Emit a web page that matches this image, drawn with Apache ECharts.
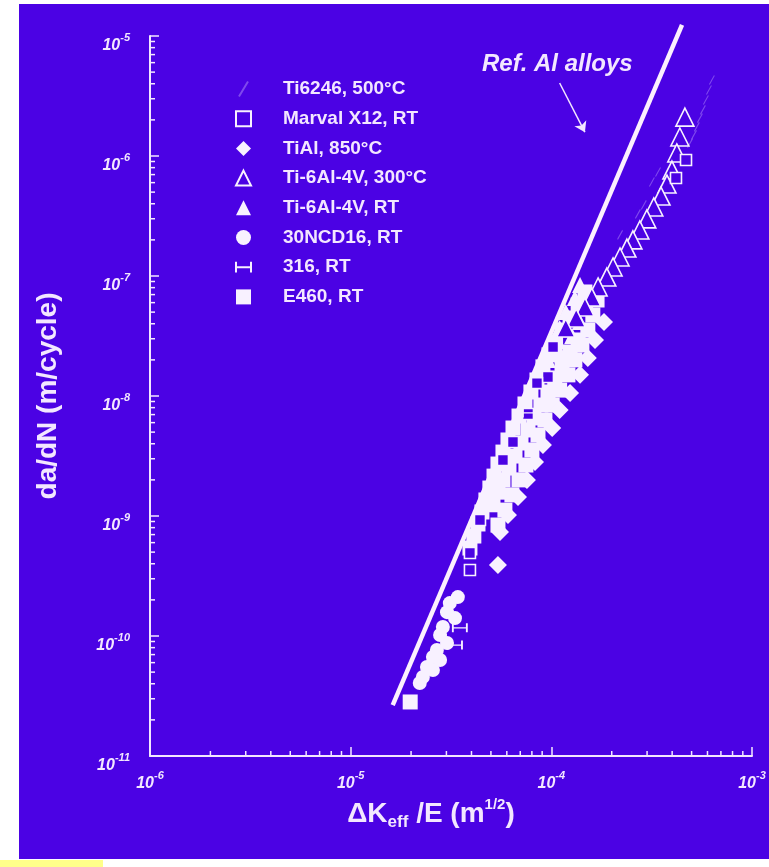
<!DOCTYPE html>
<html>
<head>
<meta charset="utf-8">
<script src="https://cdn.jsdelivr.net/npm/echarts@6/dist/echarts.min.js"></script>
<style>
  html, body { margin: 0; padding: 0; background: #ffffff; }
  #chart { width: 769px; height: 867px; }
</style>
</head>
<body>
<div id="chart"></div>
<script>
// Crack growth rate da/dN versus effective stress-intensity range normalised by E.

// Axis decades (log scale)
const xDecades = [1e-6, 1e-5, 1e-4, 1e-3];
const yDecades = [1e-11, 1e-10, 1e-9, 1e-8, 1e-7, 1e-6, 1e-5];

// Series: [ΔKeff/E (m^1/2), da/dN (m/cycle)]
const ti6246_500C = [
  [6.31e-4, 4.30e-6], [6.10e-4, 3.55e-6], [5.89e-4, 2.93e-6], [5.69e-4, 2.42e-6],
  [5.50e-4, 2.07e-6], [5.31e-4, 1.75e-6], [5.14e-4, 1.50e-6], [4.91e-4, 1.28e-6],
  [3.40e-4, 7.36e-7], [3.17e-4, 6.07e-7], [2.89e-4, 3.91e-7], [2.70e-4, 3.29e-7],
  [2.20e-4, 2.20e-7]
];
const marvalX12_RT = [
  [4.69e-4, 9.26e-7], [4.18e-4, 6.56e-7], [1.02e-4, 2.56e-8], [9.62e-5, 1.44e-8],
  [8.48e-5, 1.28e-8], [7.65e-5, 7.08e-9], [6.44e-5, 4.14e-9], [5.74e-5, 2.93e-9],
  [4.41e-5, 9.26e-10], [3.93e-5, 4.92e-10], [3.93e-5, 3.55e-10]
];
const tiAl_850C = [
  [1.83e-4, 4.14e-8], [1.65e-4, 2.93e-8], [1.52e-4, 2.07e-8], [1.39e-4, 1.50e-8],
  [1.24e-4, 1.06e-8], [1.10e-4, 7.64e-9], [1.01e-4, 5.41e-9], [9.08e-5, 3.91e-9],
  [8.29e-5, 2.82e-9], [7.56e-5, 2.00e-9], [6.82e-5, 1.44e-9], [6.08e-5, 1.02e-9],
  [5.55e-5, 7.36e-10], [5.42e-5, 3.91e-10]
];
const ti64_300C = [
  [4.63e-4, 2.11e-6], [4.37e-4, 1.44e-6], [4.22e-4, 1.06e-6], [3.99e-4, 7.64e-7],
  [3.77e-4, 5.84e-7], [3.52e-4, 4.64e-7], [3.24e-4, 3.76e-7], [2.99e-4, 2.99e-7],
  [2.76e-4, 2.42e-7], [2.55e-4, 2.00e-7], [2.38e-4, 1.71e-7], [2.20e-4, 1.44e-7],
  [2.03e-4, 1.19e-7], [1.89e-4, 9.80e-8], [1.71e-4, 8.10e-8], [1.59e-4, 6.68e-8],
  [1.47e-4, 5.52e-8], [1.33e-4, 4.47e-8], [1.18e-4, 3.69e-8]
];
const ti64_RT = [
  [1.39e-4, 8.41e-8], [1.31e-4, 6.56e-8], [1.52e-4, 5.73e-8], [1.18e-4, 5.01e-8],
  [1.39e-4, 4.14e-8], [1.10e-4, 3.69e-8], [1.27e-4, 3.16e-8], [1.04e-4, 2.66e-8],
  [1.10e-4, 2.33e-8], [9.62e-5, 2.00e-8]
];
const ncd16_RT = [
  [3.42e-5, 2.11e-10], [3.12e-5, 1.88e-10], [3.02e-5, 1.58e-10], [3.31e-5, 1.41e-10],
  [2.88e-5, 1.19e-10], [2.79e-5, 1.02e-10], [3.02e-5, 8.75e-11], [2.69e-5, 7.64e-11],
  [2.57e-5, 6.68e-11], [2.79e-5, 6.31e-11], [2.40e-5, 5.52e-11], [2.57e-5, 5.21e-11],
  [2.29e-5, 4.55e-11], [2.21e-5, 4.06e-11]
];
const ss316_RT = [
  [3.50e-5, 1.17e-10], [3.31e-5, 8.41e-11], [7.82e-5, 7.22e-9], [5.36e-5, 2.00e-9]
];
const e460_RT = [
  [1.47e-4, 7.36e-8], [1.36e-4, 5.73e-8], [1.24e-4, 4.47e-8], [1.13e-4, 3.55e-8],
  [1.05e-4, 2.82e-8], [9.73e-5, 2.20e-8], [9.08e-5, 1.75e-8], [8.48e-5, 1.36e-8],
  [7.91e-5, 1.08e-8], [7.39e-5, 8.58e-9], [6.90e-5, 6.81e-9], [6.44e-5, 5.41e-9],
  [6.08e-5, 4.30e-9], [5.74e-5, 3.41e-9], [5.42e-5, 2.71e-9], [5.18e-5, 2.15e-9],
  [4.94e-5, 1.71e-9], [4.72e-5, 1.36e-9], [4.51e-5, 1.08e-9], [4.31e-5, 8.58e-10],
  [4.11e-5, 6.81e-10], [3.93e-5, 5.41e-10],
  [1.36e-4, 2.93e-8], [1.24e-4, 2.33e-8], [1.13e-4, 1.81e-8], [1.04e-4, 1.41e-8],
  [9.62e-5, 1.08e-8], [8.87e-5, 8.41e-9], [8.19e-5, 6.56e-9], [7.65e-5, 5.21e-9],
  [7.06e-5, 4.06e-9], [6.59e-5, 3.16e-9], [6.15e-5, 2.51e-9], [5.74e-5, 2.00e-9],
  [5.42e-5, 1.58e-9], [5.12e-5, 1.24e-9],
  [1.69e-4, 6.31e-8], [1.61e-4, 4.73e-8], [1.52e-4, 3.55e-8], [1.42e-4, 2.66e-8],
  [1.31e-4, 2.00e-8], [1.21e-4, 1.50e-8], [1.10e-4, 1.12e-8], [1.01e-4, 8.41e-9],
  [9.29e-5, 6.31e-9], [8.58e-5, 4.73e-9], [8.00e-5, 3.55e-9], [7.47e-5, 2.66e-9],
  [6.90e-5, 2.00e-9], [6.36e-5, 1.50e-9], [5.87e-5, 1.12e-9], [5.42e-5, 8.41e-10],
  [1.98e-5, 2.82e-11]
];
// Reference trend for aluminium alloys and its pointer
const refAlLine = [[1.62e-5, 2.66e-11], [4.48e-4, 1.24e-5]];
const refAlArrow = [[1.10e-4, 4.06e-6], [1.47e-4, 1.58e-6]];

const legendNames = [
  'Ti6246, 500°C', 'Marval X12, RT', 'TiAl, 850°C', 'Ti-6Al-4V, 300°C',
  'Ti-6Al-4V, RT', '30NCD16, RT', '316, RT', 'E460, RT'
];

const bg = '#4b02e4';
const fg = '#f3e7ff';
const mark = '#f8f1ff';
const font = 'Liberation Sans, Arial, sans-serif';

// Minor ticks at 2..9 inside each decade, placed through the log scales
const xMinor = [];
for (let i = 0; i < xDecades.length - 1; i++) {
  for (let m = 2; m <= 9; m++) xMinor.push([m * xDecades[i], yDecades[0]]);
}
const yMinor = [];
for (let i = 0; i < yDecades.length - 1; i++) {
  for (let m = 2; m <= 9; m++) yMinor.push([xDecades[0], m * yDecades[i]]);
}
const tickSeries = (name, data, vertical) => ({
  name, type: 'custom', silent: true, clip: false, z: 1,
  data, encode: { x: 0, y: 1 },
  renderItem: (params, api) => {
    const p = api.coord([api.value(0), api.value(1)]);
    return {
      type: 'line',
      shape: vertical
        ? { x1: p[0], y1: p[1], x2: p[0], y2: p[1] - 5 }
        : { x1: p[0], y1: p[1], x2: p[0] + 5, y2: p[1] },
      style: { stroke: fg, lineWidth: 1.5 }
    };
  }
});

const powLabel = v => '{b|10}{s|' + Math.round(Math.log10(v)) + '}';
const tickRich = {
  b: { fontFamily: font, fontSize: 16, fontWeight: 'bold', fontStyle: 'italic', color: fg, lineHeight: 22, verticalAlign: 'bottom' },
  s: { fontFamily: font, fontSize: 11, fontWeight: 'bold', fontStyle: 'italic', color: fg, lineHeight: 22, verticalAlign: 'top' }
};

const solid = { color: mark, opacity: 1 };
const hollow = { color: bg, borderColor: mark, borderWidth: 1.6, opacity: 1 };

const chart = echarts.init(document.getElementById('chart'), null, { renderer: 'canvas' });

chart.setOption({
  backgroundColor: '#ffffff',
  animation: false,
  graphic: [
    { type: 'rect', z: -100, silent: true, shape: { x: 19, y: 4, width: 750, height: 855 }, style: { fill: bg } },
    { type: 'rect', z: -100, silent: true, shape: { x: 0, y: 860, width: 103, height: 7 }, style: { fill: '#ffff8a' } },
    {
      type: 'text', z: 50, left: 482, top: 52, silent: true,
      style: { text: 'Ref. Al alloys', fill: fg, font: 'italic bold 24px "Liberation Sans", Arial, sans-serif' }
    }
  ],
  grid: { left: 150, right: 17, top: 36, bottom: 111, containLabel: false },
  legend: {
    data: legendNames,
    orient: 'vertical',
    left: 230,
    top: 74,
    itemWidth: 15,
    itemHeight: 15,
    itemGap: 9.7,
    selectedMode: false,
    textStyle: {
      color: fg, fontSize: 19, fontWeight: 'bold', lineHeight: 20,
      fontFamily: font, padding: [0, 0, 0, 27]
    }
  },
  xAxis: {
    type: 'log', logBase: 10, min: 1e-6, max: 1e-3,
    name: '{n|ΔK}{sub|eff}{n| /E (m}{sup|1/2}{n|)}',
    nameLocation: 'middle', nameGap: 36,
    nameTextStyle: {
      padding: [0, 40, 0, 0],
      rich: {
        n: { fontFamily: font, fontSize: 28, fontWeight: 'bold', color: fg, lineHeight: 34, verticalAlign: 'middle' },
        sub: { fontFamily: font, fontSize: 17, fontWeight: 'bold', color: fg, lineHeight: 34, verticalAlign: 'bottom' },
        sup: { fontFamily: font, fontSize: 15, fontWeight: 'bold', color: fg, lineHeight: 34, verticalAlign: 'top' }
      }
    },
    axisLine: { show: true, lineStyle: { color: fg, width: 2 } },
    axisTick: { show: true, inside: true, length: 9, lineStyle: { color: fg, width: 1.5 } },
    minorTick: { show: false },
    splitLine: { show: false },
    axisLabel: { formatter: powLabel, rich: tickRich, margin: 14 }
  },
  yAxis: {
    type: 'log', logBase: 10, min: 1e-11, max: 1e-5,
    name: 'da/dN (m/cycle)',
    nameLocation: 'middle', nameGap: 88, nameRotate: 90,
    nameTextStyle: { fontFamily: font, fontSize: 28, fontWeight: 'bold', color: fg },
    axisLine: { show: true, lineStyle: { color: fg, width: 2 } },
    axisTick: { show: true, inside: true, length: 9, lineStyle: { color: fg, width: 1.5 } },
    minorTick: { show: false },
    splitLine: { show: false },
    axisLabel: { formatter: powLabel, rich: tickRich, margin: 20, padding: [14, 0, 0, 0] }
  },
  series: [
    tickSeries('x-minor-ticks', xMinor, true),
    tickSeries('y-minor-ticks', yMinor, false),
    {
      name: 'Ref. Al alloys', type: 'line', data: refAlLine, symbol: 'none', clip: false, silent: true, z: 3,
      lineStyle: { color: '#fcf0fe', width: 4.5 },
      markLine: {
        silent: true, symbol: ['none', 'arrow'], symbolSize: 10,
        lineStyle: { color: fg, width: 1.5, type: 'solid' },
        label: { show: false },
        data: [[{ coord: refAlArrow[0] }, { coord: refAlArrow[1] }]]
      }
    },
    { name: 'E460, RT', type: 'scatter', data: e460_RT, symbol: 'rect', symbolSize: 15, z: 4, itemStyle: solid },
    { name: '30NCD16, RT', type: 'scatter', data: ncd16_RT, symbol: 'circle', symbolSize: 14, z: 4, itemStyle: solid },
    { name: 'TiAl, 850°C', type: 'scatter', data: tiAl_850C, symbol: 'diamond', symbolSize: 18, z: 4, itemStyle: solid },
    { name: 'Ti-6Al-4V, RT', type: 'scatter', data: ti64_RT, symbol: 'triangle', symbolSize: 16, z: 5, itemStyle: solid },
    { name: 'Ti-6Al-4V, 300°C', type: 'scatter', data: ti64_300C, symbol: 'triangle', symbolSize: 18, z: 6, itemStyle: hollow },
    { name: 'Marval X12, RT', type: 'scatter', data: marvalX12_RT, symbol: 'rect', symbolSize: 11, z: 7, itemStyle: hollow },
    {
      name: '316, RT', type: 'scatter', data: ss316_RT, symbol: 'path://M0,0L0,10M0,5L14,5M14,0L14,10', symbolSize: [14, 9], z: 8,
      itemStyle: { color: 'transparent', borderColor: mark, borderWidth: 1.5, opacity: 1 }
    },
    {
      name: 'Ti6246, 500°C', type: 'scatter', data: ti6246_500C, symbol: 'path://M0,10L6,0', symbolSize: [5, 9], z: 3,
      itemStyle: { color: 'transparent', borderColor: 'rgba(225,205,255,0.35)', borderWidth: 1.2, opacity: 1 }
    }
  ]
});
</script>
</body>
</html>
